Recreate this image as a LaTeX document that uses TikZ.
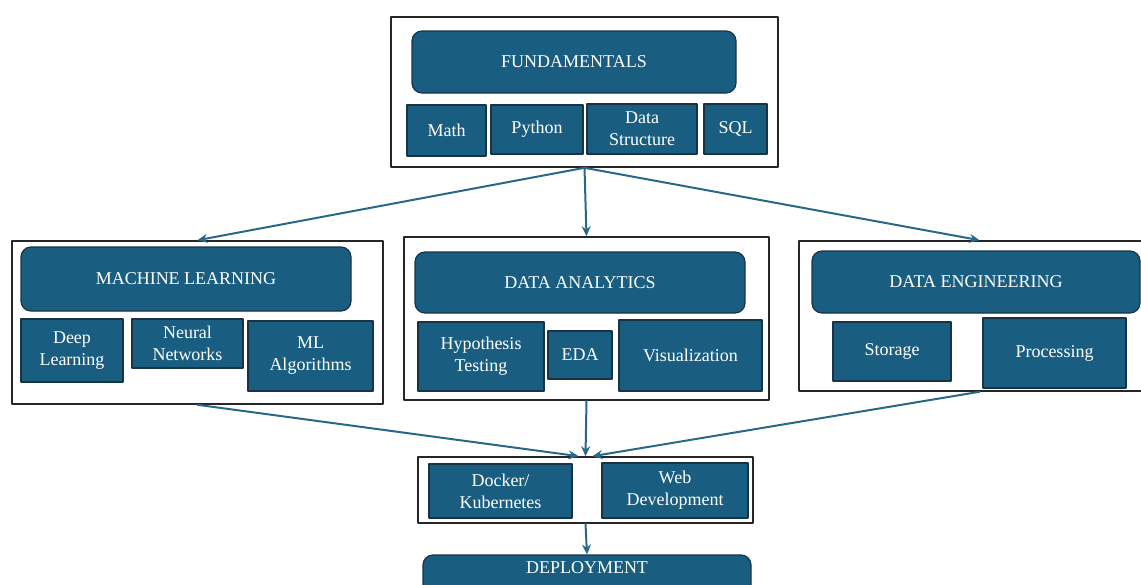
\documentclass[tikz,border=0pt]{standalone}
\usepackage{fontspec}
\setmainfont{Liberation Serif}
\usepackage{xcolor}
\usetikzlibrary{arrows.meta}
\definecolor{tilefill}{RGB}{25,94,128}
\definecolor{tileedge}{RGB}{24,52,68}
\definecolor{linkcol}{RGB}{40,105,138}
\begin{document}
\begin{tikzpicture}[line cap=round,line join=round,x=1pt,y=-1pt,
    tile/.style={draw=tileedge,fill=tilefill,text=white,align=center,inner sep=0pt,line width=1.8pt,font=\fontsize{18}{22}\selectfont},
    head/.style={tile,line width=1.2pt,rounded corners=10pt},
    frame/.style={draw=black!85,line width=1.6pt,inner sep=0pt},
    link/.style={draw=linkcol,line width=2pt,-{Stealth[length=10pt,width=9pt]}}]
                \useasboundingbox (0,0) rectangle (1141,584);
                \clip (0,0) rectangle (1141,584);
                \node[frame,minimum width=387pt,minimum height=150pt] (top) at (584.5,92) {};
                \node[head,minimum width=324pt,minimum height=62pt] (fund) at (574,62) {FUNDAMENTALS};
                \node[tile,minimum width=79pt,minimum height=51pt] (math) at (446.5,130.5) {Math};
                \node[tile,minimum width=92pt,minimum height=49pt] (python) at (537,129.5) {Python};
                \node[tile,minimum width=110pt,minimum height=50pt] (dstruct) at (642,129) {Data\\Structure};
                \node[tile,minimum width=63pt,minimum height=50pt] (sql) at (735.5,129) {SQL};
                \node[frame,minimum width=371pt,minimum height=163pt] (ml) at (197.5,322.5) {};
                \node[head,minimum width=330pt,minimum height=64pt] (mlhead) at (186,279) {MACHINE LEARNING};
                \node[tile,minimum width=102pt,minimum height=63pt] (deep) at (72,350.5) {Deep\\Learning};
                \node[tile,minimum width=111pt,minimum height=49pt] (neural) at (187.5,343.5) {Neural\\Networks};
                \node[tile,minimum width=125pt,minimum height=70pt] (mlalg) at (310.5,356) {ML\\Algorithms};
                \node[frame,minimum width=365pt,minimum height=163pt] (da) at (586.5,318.5) {};
                \node[head,minimum width=330pt,minimum height=61pt] (dahead) at (580,282.5) {DATA ANALYTICS};
                \node[tile,minimum width=126pt,minimum height=69pt] (hypo) at (481,356.5) {Hypothesis\\Testing};
                \node[tile,minimum width=64pt,minimum height=48pt] (eda) at (580,355) {EDA};
                \node[tile,minimum width=143pt,minimum height=71pt] (vis) at (690.5,355.5) {Visualization};
                \node[frame,minimum width=361pt,minimum height=150pt] (de) at (979.5,316) {};
                \node[head,minimum width=328pt,minimum height=62pt] (dehead) at (976,282) {DATA ENGINEERING};
                \node[tile,minimum width=118pt,minimum height=59pt] (storage) at (892,351.5) {Storage};
                \node[tile,minimum width=143pt,minimum height=70pt] (proc) at (1054.5,353) {Processing};
                \node[frame,minimum width=335pt,minimum height=66pt] (bot) at (585.5,490) {};
                \node[tile,minimum width=143pt,minimum height=54pt] (docker) at (500.5,491) {Docker/\\Kubernetes};
                \node[tile,minimum width=146pt,minimum height=55pt] (web) at (675,490.5) {Web\\Development};
                \node[head,minimum width=328pt,minimum height=62pt,text height=12pt,text depth=38pt] (deploy) at (587,586) {DEPLOYMENT};
                \draw[link] (top.south) -- (ml.north);
                \draw[link] (top.south) -- (da.north);
                \draw[link] (top.south) -- (de.north);
                \draw[link] (ml.south) -- ([xshift=-7pt]bot.north);
                \draw[link] (da.south) -- (bot.north);
                \draw[link] (de.south) -- ([xshift=7pt]bot.north);
                \draw[link] (bot.south) -- (deploy.north);
            \end{tikzpicture}
\end{document}
